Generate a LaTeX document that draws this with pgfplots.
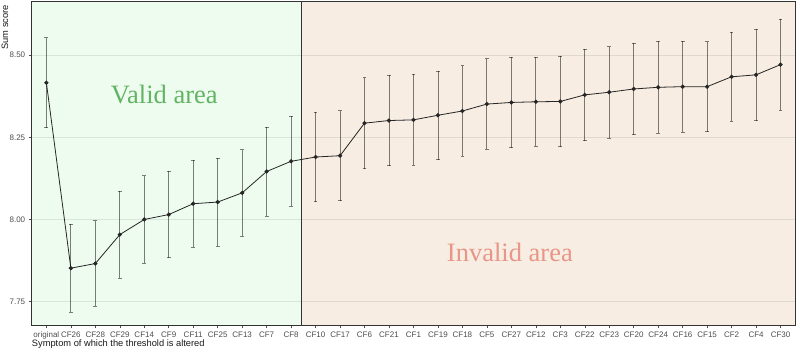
\documentclass[border=0pt]{standalone}
\usepackage{pgfplots}
\pgfplotsset{compat=1.18}
\usepackage{pgfplotstable}
\usepackage{fontspec}
\setmainfont{Liberation Sans}
\newfontfamily\seriffont{Liberation Serif}
\definecolor{validbg}{RGB}{238,252,239}
\definecolor{invalidbg}{RGB}{247,237,226}
\definecolor{validtxt}{RGB}{98,180,100}
\definecolor{invalidtxt}{RGB}{232,150,136}
\definecolor{tickgray}{RGB}{77,77,77}
\pgfplotstableread{
x mean err
0 8.416 0.137
1 7.852 0.133
2 7.866 0.130
3 7.954 0.132
4 8.000 0.133
5 8.015 0.131
6 8.048 0.133
7 8.053 0.134
8 8.081 0.131
9 8.146 0.135
10 8.177 0.137
11 8.190 0.136
12 8.194 0.137
13 8.293 0.138
14 8.301 0.137
15 8.303 0.138
16 8.317 0.135
17 8.330 0.138
18 8.351 0.138
19 8.356 0.138
20 8.358 0.135
21 8.359 0.138
22 8.379 0.139
23 8.387 0.139
24 8.397 0.139
25 8.402 0.140
26 8.404 0.138
27 8.404 0.137
28 8.434 0.135
29 8.440 0.139
30 8.471 0.139
}\datatable
\begin{document}
\begin{tikzpicture}
\begin{axis}[
  set layers,
  at={(31.7pt,25.7pt)}, anchor=south west,
  scale only axis, width=764pt, height=323.6pt,
  xmin=-0.6, xmax=30.62, ymin=7.6782, ymax=8.6624,
  xtick={0,...,30},
  xticklabels={original,CF26,CF28,CF29,CF14,CF9,CF11,CF25,CF13,CF7,CF8,CF10,CF17,CF6,CF21,CF1,CF19,CF18,CF5,CF27,CF12,CF3,CF22,CF23,CF20,CF24,CF16,CF15,CF2,CF4,CF30},
  ytick={7.75,8.00,8.25,8.50},
  yticklabel style={/pgf/number format/.cd, fixed, fixed zerofill, precision=2, assume math mode=true},
  ticklabel style={font=\fontsize{8}{9}\selectfont, text=tickgray},
  xtick pos=bottom, ytick pos=left,
  tick align=outside, major tick length=3pt,
  tick style={tickgray, line width=0.5pt},
  axis line style={draw=black!80, line width=0.8pt},
  ymajorgrids, grid style={black, opacity=0.09, line width=0.6pt},
]
\addplot[fill=validbg, draw=none, on layer=axis background, forget plot]
  coordinates {(-0.6,7.6782) (10.42,7.6782) (10.42,8.6624) (-0.6,8.6624)};
\addplot[fill=invalidbg, draw=none, on layer=axis background, forget plot]
  coordinates {(10.42,7.6782) (30.62,7.6782) (30.62,8.6624) (10.42,8.6624)};
\addplot[draw=black!80, line width=0.8pt, forget plot]
  coordinates {(10.42,7.6782) (10.42,8.6624)};
\addplot[black!85, line width=0.8pt, mark=*, mark size=1.7pt,
  mark options={fill=black!85, draw=black!85},
  error bars/.cd, y dir=both, y explicit,
  error bar style={black, opacity=0.5, line width=0.8pt},
  error mark options={rotate=90, black, opacity=0.5, line width=0.7pt, mark size=1.9pt}]
  table[x=x, y=mean, y error=err] {\datatable};
\node[font=\seriffont\fontsize{26.5}{30}\selectfont, text=validtxt, anchor=base, inner sep=0]
  at (axis cs:4.82,8.353) {Valid area};
\node[font=\seriffont\fontsize{26.5}{30}\selectfont, text=invalidtxt, anchor=base, inner sep=0]
  at (axis cs:18.94,7.871) {Invalid area};
\end{axis}
\node[rotate=90, anchor=south east, inner sep=0, font=\fontsize{9.3}{11}\selectfont, text=black!90] at (8.3pt,346pt) {Sum score};
\node[anchor=base west, inner sep=0, font=\fontsize{9.3}{11}\selectfont, text=black!90] at (31.7pt,4.3pt) {Symptom of which the threshold is altered};
\pgfresetboundingbox
\path[use as bounding box] (0,0) rectangle (798pt,351pt);
\end{tikzpicture}
\end{document}
